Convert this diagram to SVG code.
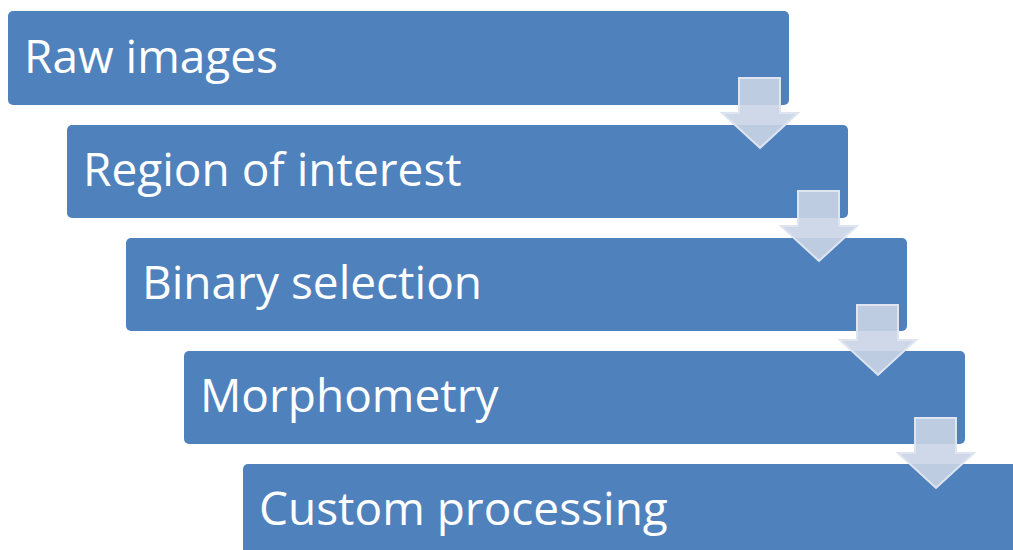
<svg xmlns="http://www.w3.org/2000/svg" width="1013" height="550" viewBox="0 0 1013 550">
  <style>
    .box { fill: #4f81bd; }
    .label { fill: #ffffff; font-family: "Open Sans", "Liberation Sans", sans-serif; font-size: 46px; }
    .arrow { fill: #cad4e6; fill-opacity: 0.9; stroke: #dfe5f0; stroke-width: 2; stroke-linejoin: miter; }
  </style>
  <defs>
    <!-- downward step arrow, origin at stem top-left -->
    <path id="down" d="M0,0 H41 V35 H59 L21,70 L-17,35 H0 Z"/>
  </defs>
  <rect width="1013" height="550" fill="#ffffff"/>
  <g id="step-raw-images">
    <rect class="box" x="8" y="11" width="781" height="94" rx="5"/>
    <text class="label" x="24" y="73">Raw images</text>
  </g>
  <g id="step-region-of-interest">
    <rect class="box" x="67" y="125" width="781" height="93" rx="5"/>
    <text class="label" x="83" y="186">Region of interest</text>
  </g>
  <g id="step-binary-selection">
    <rect class="box" x="126" y="238" width="781" height="93" rx="5"/>
    <text class="label" x="142" y="299">Binary selection</text>
  </g>
  <g id="step-morphometry">
    <rect class="box" x="184" y="351" width="781" height="93" rx="5"/>
    <text class="label" x="200" y="412">Morphometry</text>
  </g>
  <g id="step-custom-processing">
    <rect class="box" x="243" y="464" width="790" height="100" rx="5"/>
    <text class="label" x="259" y="525">Custom processing</text>
  </g>
  <g id="connectors">
    <use href="#down" class="arrow" x="739" y="78"/>
    <use href="#down" class="arrow" x="798" y="191"/>
    <use href="#down" class="arrow" x="857" y="305"/>
    <use href="#down" class="arrow" x="915" y="418"/>
  </g>
</svg>
